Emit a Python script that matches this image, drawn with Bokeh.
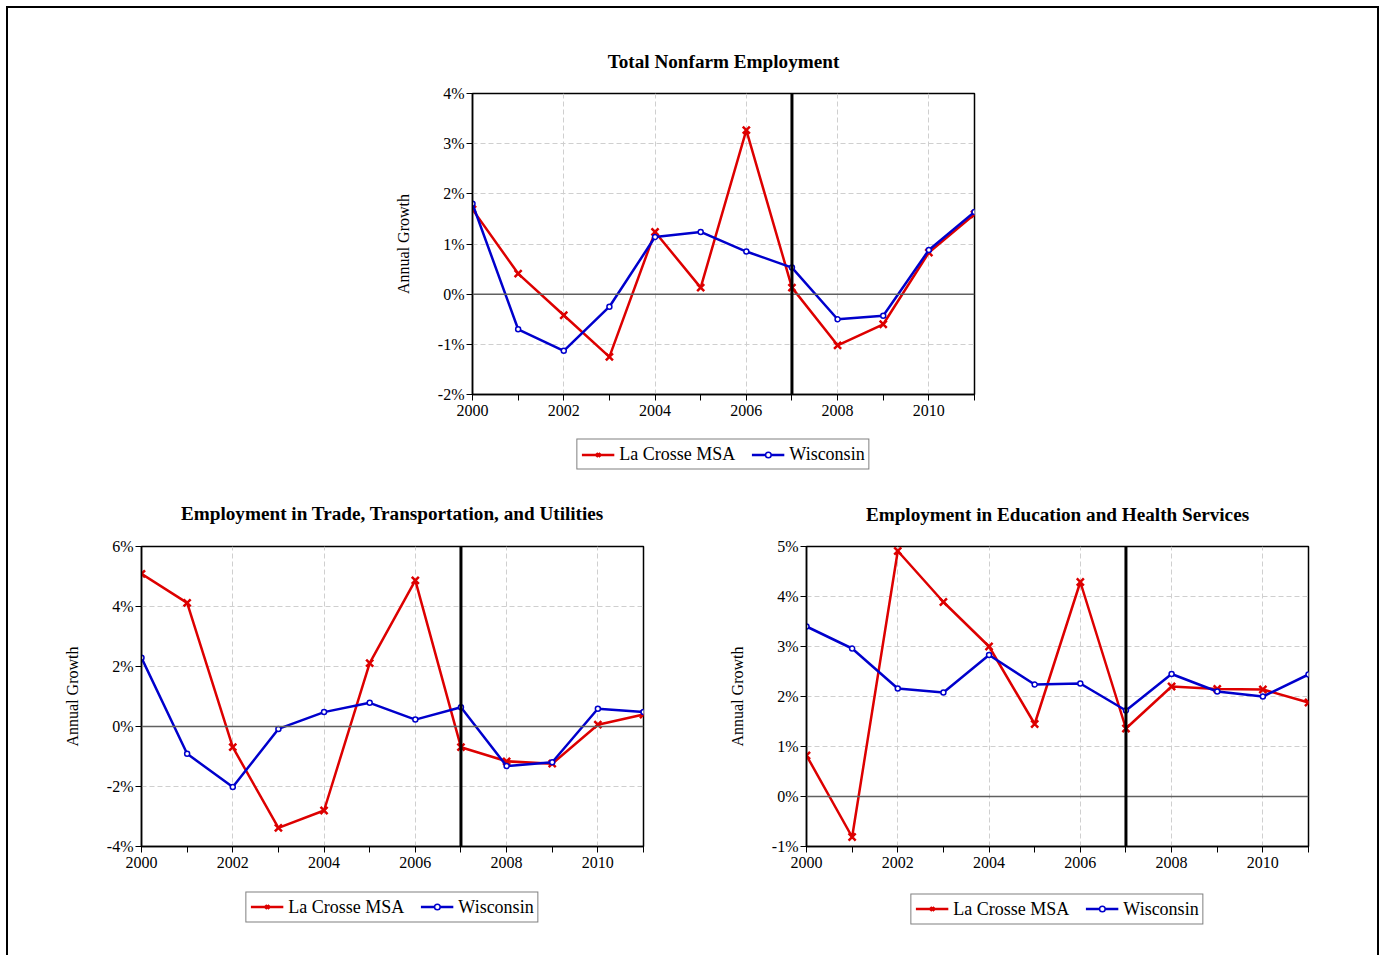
from bokeh.plotting import figure
from bokeh.models import Range1d, FixedTicker, Span, Legend, LegendItem, Spacer
from bokeh.layouts import column, row
from bokeh.embed import file_html
from bokeh.resources import INLINE

years = list(range(2000, 2012))
major_years = [2000, 2002, 2004, 2006, 2008, 2010]
minor_years = [2001, 2003, 2005, 2007, 2009, 2011]
marker_year = 2007

series_names = ["La Crosse MSA", "Wisconsin"]

nonfarm_title = "Total Nonfarm Employment"
nonfarm_lacrosse = [1.69, 0.41, -0.42, -1.25, 1.24, 0.13, 3.27, 0.13, -1.02, -0.60, 0.83, 1.59]
nonfarm_wisconsin = [1.80, -0.70, -1.13, -0.25, 1.14, 1.24, 0.85, 0.53, -0.50, -0.43, 0.88, 1.64]
nonfarm_yticks = [-2, -1, 0, 1, 2, 3, 4]

trade_title = "Employment in Trade, Transportation, and Utilities"
trade_lacrosse = [5.09, 4.12, -0.69, -3.38, -2.80, 2.11, 4.87, -0.69, -1.16, -1.24, 0.06, 0.40]
trade_wisconsin = [2.29, -0.91, -2.02, -0.08, 0.48, 0.79, 0.23, 0.64, -1.32, -1.19, 0.59, 0.48]
trade_yticks = [-4, -2, 0, 2, 4, 6]

edu_title = "Employment in Education and Health Services"
edu_lacrosse = [0.82, -0.81, 4.91, 3.89, 3.00, 1.45, 4.29, 1.36, 2.20, 2.15, 2.14, 1.88]
edu_wisconsin = [3.40, 2.96, 2.16, 2.08, 2.83, 2.24, 2.26, 1.72, 2.45, 2.10, 2.00, 2.44]
edu_yticks = [-1, 0, 1, 2, 3, 4, 5]

FONT = "Liberation Serif"
RED = "#DD0000"
BLUE = "#0000CC"


def draw_series(p, xs, la, wi):
    l1 = p.line(xs, la, line_color=RED, line_width=2.5)
    s1 = p.scatter(xs, la, marker="x", size=10, line_color=RED, line_width=2.5)
    l2 = p.line(xs, wi, line_color=BLUE, line_width=2.5)
    s2 = p.scatter(xs, wi, marker="circle", size=5, line_color=BLUE,
                   fill_color="white", line_width=1.5)
    return (l1, s1), (l2, s2)


def make_chart(title, la, wi, yticks, width, height, left, right, top, bottom, standoff):
    p = figure(width=width, height=height,
               x_range=Range1d(years[0], years[-1]),
               y_range=Range1d(yticks[0], yticks[-1]),
               min_border_left=left, min_border_right=right,
               min_border_top=top, min_border_bottom=bottom,
               output_backend="svg", toolbar_location=None, tools="")
    p.background_fill_color = "white"
    p.border_fill_color = "white"
    p.outline_line_color = "black"
    p.outline_line_width = 1.5

    p.title.text = title
    p.title.text_font = FONT
    p.title.text_font_size = "19.2px"
    p.title.text_font_style = "bold"
    p.title.text_color = "black"
    p.title.align = "center"
    p.title.standoff = standoff

    p.xaxis.ticker = FixedTicker(ticks=major_years, minor_ticks=minor_years)
    p.yaxis.ticker = FixedTicker(ticks=yticks)
    p.yaxis.major_label_overrides = {v: f"{v}%" for v in yticks}
    for ax in (p.xaxis, p.yaxis):
        ax.axis_line_color = "black"
        ax.axis_line_width = 1.5
        ax.major_tick_line_color = "black"
        ax.minor_tick_line_color = "black"
        ax.major_tick_in = 0
        ax.major_tick_out = 6
        ax.minor_tick_in = 0
        ax.minor_tick_out = 6
        ax.major_label_text_font = FONT
        ax.major_label_text_font_size = "16px"
        ax.major_label_text_color = "black"
        ax.major_label_standoff = 2
    p.xaxis.major_label_standoff = 4
    p.yaxis.minor_tick_out = 0
    p.yaxis.axis_label = "Annual Growth"
    p.yaxis.axis_label_text_font = FONT
    p.yaxis.axis_label_text_font_size = "16px"
    p.yaxis.axis_label_text_font_style = "normal"
    p.yaxis.axis_label_text_color = "black"
    p.yaxis.axis_label_standoff = 23

    for g in (p.xgrid, p.ygrid):
        g.grid_line_color = "#CFCFCF"
        g.grid_line_dash = "5 3"
        g.grid_line_width = 1

    p.add_layout(Span(location=0, dimension="width", line_color="#606060", line_width=1.5))
    p.add_layout(Span(location=marker_year, dimension="height", line_color="black", line_width=3))

    draw_series(p, years, la, wi)
    return p


def make_legend(la, wi, width, height, left, right):
    # legend-only strip; its frame spans the chart frame horizontally and its
    # ranges keep the series themselves out of view, so only the key shows
    p = figure(width=width, height=height,
               x_range=Range1d(0, 1), y_range=Range1d(0, 1),
               min_border_left=left, min_border_right=right,
               min_border_top=0, min_border_bottom=0,
               x_axis_type=None, y_axis_type=None,
               output_backend="svg", toolbar_location=None, tools="")
    p.outline_line_color = None
    p.xgrid.visible = False
    p.ygrid.visible = False
    r1, r2 = draw_series(p, years, la, wi)
    legend = Legend(items=[LegendItem(label=series_names[0], renderers=list(r1)),
                           LegendItem(label=series_names[1], renderers=list(r2))],
                    orientation="horizontal", location="center")
    legend.label_text_font = FONT
    legend.label_text_font_size = "18px"
    legend.label_text_color = "black"
    legend.border_line_color = "black"
    legend.border_line_width = 1.5
    legend.background_fill_color = "white"
    legend.background_fill_alpha = 1
    legend.glyph_width = 33
    legend.glyph_height = 14
    legend.label_height = 14
    legend.label_standoff = 5
    legend.spacing = 16
    legend.padding = 4
    legend.margin = 0
    p.add_layout(legend)
    return p


top = make_chart(nonfarm_title, nonfarm_lacrosse, nonfarm_wisconsin, nonfarm_yticks,
                 1369, 422, 464, 403, 85, 36, 44)
top_leg = make_legend(nonfarm_lacrosse, nonfarm_wisconsin, 1369, 48, 464, 403)

bl = make_chart(trade_title, trade_lacrosse, trade_wisconsin, trade_yticks,
                684, 404, 133, 49, 68, 36, 45)
bl_leg = make_legend(trade_lacrosse, trade_wisconsin, 684, 49, 133, 49)

br = make_chart(edu_title, edu_lacrosse, edu_wisconsin, edu_yticks,
                685, 404, 114, 69, 68, 36, 44)
br_leg = make_legend(edu_lacrosse, edu_wisconsin, 685, 53, 114, 69)

layout = column(top, top_leg,
                row(column(bl, bl_leg), column(br, br_leg)),
                Spacer(width=10, height=20),
                styles={"margin-left": "6px", "margin-top": "6px",
                        "border-left": "2px solid black",
                        "border-right": "2px solid black",
                        "border-top": "2px solid black"})

open("out.html", "w").write(file_html(layout, INLINE))
